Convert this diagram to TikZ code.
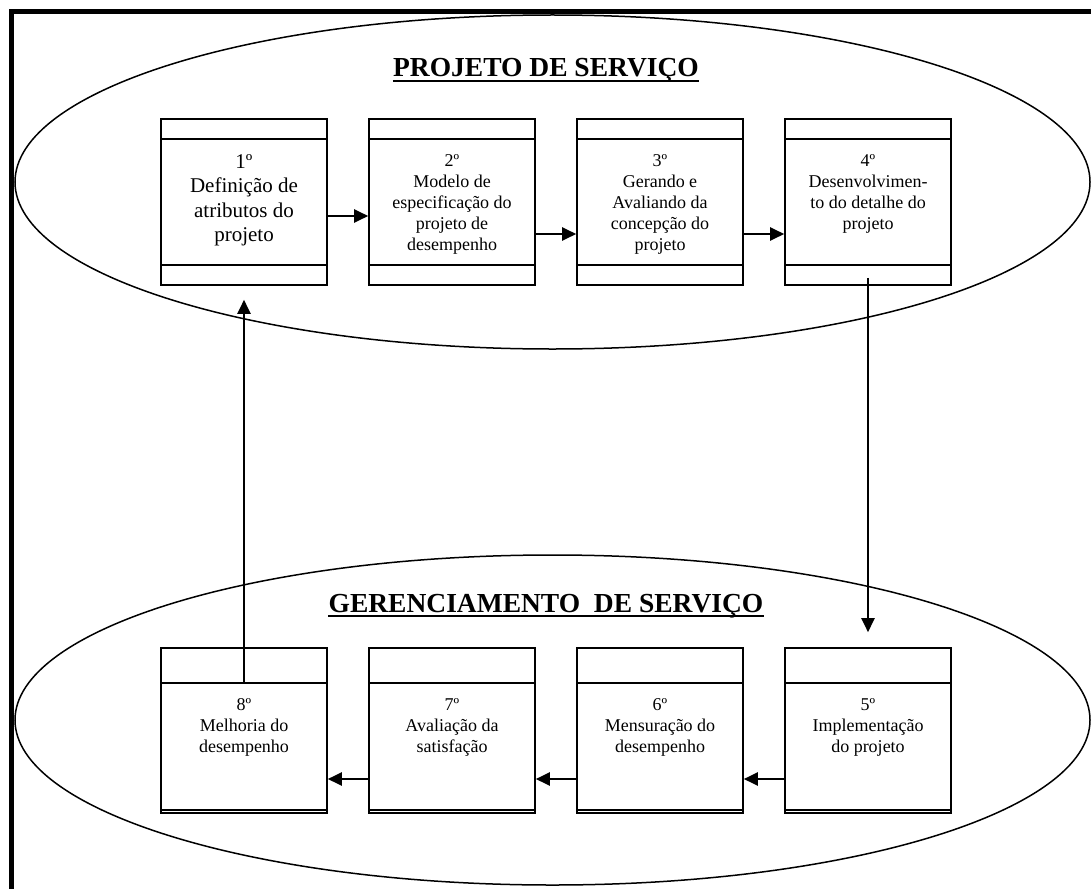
\documentclass[tikz,border=0pt]{standalone}
\usepackage{fontspec}
\setmainfont{Liberation Serif}
\usetikzlibrary{arrows.meta}
\begin{document}
\begin{tikzpicture}[x=1pt,y=-1pt,
  stagetop/.style={draw, line width=1.6pt, minimum width=166pt, minimum height=166pt, inner sep=0pt},
  stagelow/.style={draw, line width=1.6pt, minimum width=166pt, minimum height=165pt, inner sep=0pt},
  divline/.style={line width=1.6pt},
  bigtxt/.style={anchor=north, align=center, inner sep=0pt, font=\fontsize{21}{24.5}\selectfont},
  smalltxt/.style={anchor=north, align=center, inner sep=0pt, font=\fontsize{18}{21}\selectfont},
  headtxt/.style={anchor=base, inner sep=0pt, font=\fontsize{27.5}{30}\selectfont\bfseries},
  conn/.style={line width=2.2pt, -{Triangle[length=14pt,width=13pt]}},
  region/.style={line width=1.5pt}
]
\useasboundingbox (0,0) rectangle (1091,888);
\clip (0,0) rectangle (1091,888);

% frame
\draw[line width=5pt] (11.5,900) -- (11.5,11.5) -- (1100,11.5);

% regions
\draw[region] (552.5,182) ellipse [x radius=537.5pt, y radius=167pt];
\draw[region] (552.5,720) ellipse [x radius=537.5pt, y radius=165pt];

% titles
\node[headtxt] (h1) at (546,77) {PROJETO DE SERVIÇO};
\draw[line width=2pt] ([yshift=-4pt]h1.base west) -- ([yshift=-4pt]h1.base east);
\node[headtxt] (h2) at (546,612) {GERENCIAMENTO\ \ DE SERVIÇO};
\draw[line width=2pt] ([yshift=-4pt]h2.base west) -- ([yshift=-4pt]h2.base east);

% top boxes
\node[stagetop] (b1) at (244,202) {};
\node[stagetop] (b2) at (452,202) {};
\node[stagetop] (b3) at (660,202) {};
\node[stagetop] (b4) at (868,202) {};
\foreach \n in {b1,b2,b3,b4}{
  \draw[divline] ([yshift=-21pt]\n.north west) -- ([yshift=-21pt]\n.north east);
  \draw[divline] ([yshift=21pt]\n.south west) -- ([yshift=21pt]\n.south east);
}

% bottom boxes
\node[stagelow] (b8) at (244,730.5) {};
\node[stagelow] (b7) at (452,730.5) {};
\node[stagelow] (b6) at (660,730.5) {};
\node[stagelow] (b5) at (868,730.5) {};
\foreach \n in {b5,b6,b7,b8}{
  \draw[divline] ([yshift=-36pt]\n.north west) -- ([yshift=-36pt]\n.north east);
  \draw[divline] ([yshift=4pt]\n.south west) -- ([yshift=4pt]\n.south east);
}

% texts
\node[bigtxt] (t1) at (244,154) {1º\\Definição de\\atributos do\\projeto};
\node[smalltxt] (t2) at (452,154) {2º\\Modelo de\\especificação do\\projeto de\\desempenho};
\node[smalltxt] (t3) at (660,154) {3º\\Gerando e\\Avaliando da\\concepção do\\projeto};
\node[smalltxt] (t4) at (868,154) {4º\\Desenvolvimen-\\to do detalhe do\\projeto};
\node[smalltxt] (t5) at (868,698) {5º\\Implementação\\do projeto};
\node[smalltxt] (t6) at (660,698) {6º\\Mensuração do\\desempenho};
\node[smalltxt] (t7) at (452,698) {7º\\Avaliação da\\satisfação};
\node[smalltxt] (t8) at (244,698) {8º\\Melhoria do\\desempenho};

% connectors
\draw[conn] ([yshift=-14pt]b1.east) -- ([yshift=-14pt]b2.west);
\draw[conn] ([yshift=-32pt]b2.east) -- ([yshift=-32pt]b3.west);
\draw[conn] ([yshift=-32pt]b3.east) -- ([yshift=-32pt]b4.west);
\draw[conn] ([yshift=8pt]b4.south) -- ([yshift=15pt]b5.north);
\draw[conn] ([yshift=-48.5pt]b5.west) -- ([yshift=-48.5pt]b6.east);
\draw[conn] ([yshift=-48.5pt]b6.west) -- ([yshift=-48.5pt]b7.east);
\draw[conn] ([yshift=-48.5pt]b7.west) -- ([yshift=-48.5pt]b8.east);
\draw[conn] ([yshift=-36pt]b8.north) -- ([yshift=-14pt]b1.south);
\end{tikzpicture}
\end{document}
